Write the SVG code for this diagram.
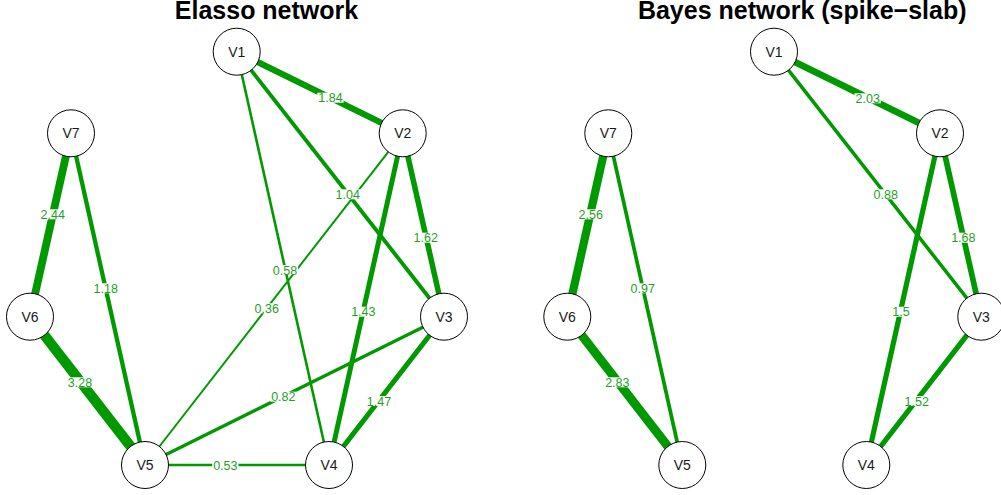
<svg xmlns="http://www.w3.org/2000/svg" width="1001" height="495" viewBox="0 0 1001 495">
<style>
.title{font-family:"Liberation Sans",Arial,sans-serif;font-weight:bold;font-size:25px;fill:#000;text-anchor:middle}
.e{stroke:#009900;fill:none;stroke-linecap:butt}
.lb{fill:#fff}
.lt{font-family:"Liberation Sans",Arial,sans-serif;font-size:12.5px;fill:#1f9f1f;text-anchor:middle}
.n circle{fill:#fff;stroke:#000;stroke-width:1}
.n text{font-family:"Liberation Sans",Arial,sans-serif;font-size:14px;fill:#1a1a1a;text-anchor:middle}
</style>
<rect width="1001" height="495" fill="#fff"/>
<text class="title" x="266.5" y="19.2">Elasso network</text>
<text class="title" x="802.2" y="19.2">Bayes network (spike−slab)</text>
<g id="edges">
<!-- left panel -->
<line class="e" x1="145" y1="465" x2="329" y2="465" stroke-width="2.5"/>
<line class="e" x1="402.7" y1="133.3" x2="145" y2="465" stroke-width="2"/>
<line class="e" x1="236.7" y1="51.7" x2="329" y2="465" stroke-width="2.6"/>
<line class="e" x1="444" y1="316.7" x2="145" y2="465" stroke-width="3.3"/>
<line class="e" x1="236.7" y1="51.7" x2="444" y2="316.7" stroke-width="3.9"/>
<line class="e" x1="71" y1="133.3" x2="145" y2="465" stroke-width="4.3"/>
<line class="e" x1="402.7" y1="133.3" x2="329" y2="465" stroke-width="5"/>
<line class="e" x1="444" y1="316.7" x2="329" y2="465" stroke-width="5.1"/>
<line class="e" x1="402.7" y1="133.3" x2="444" y2="316.7" stroke-width="5.5"/>
<line class="e" x1="236.7" y1="51.7" x2="402.7" y2="133.3" stroke-width="6.2"/>
<line class="e" x1="71" y1="133.3" x2="30" y2="316.7" stroke-width="7.8"/>
<line class="e" x1="30" y1="316.7" x2="145" y2="465" stroke-width="10.2"/>
<!-- right panel -->
<line class="e" x1="774" y1="51.7" x2="981.3" y2="316.7" stroke-width="3.5"/>
<line class="e" x1="608.3" y1="133.3" x2="682.3" y2="465" stroke-width="3.7"/>
<line class="e" x1="940" y1="133.3" x2="866.3" y2="465" stroke-width="5.2"/>
<line class="e" x1="981.3" y1="316.7" x2="866.3" y2="465" stroke-width="5.3"/>
<line class="e" x1="940" y1="133.3" x2="981.3" y2="316.7" stroke-width="5.7"/>
<line class="e" x1="774" y1="51.7" x2="940" y2="133.3" stroke-width="6.7"/>
<line class="e" x1="608.3" y1="133.3" x2="567.3" y2="316.7" stroke-width="8.2"/>
<line class="e" x1="567.3" y1="316.7" x2="682.3" y2="465" stroke-width="8.9"/>
</g>
<g id="edge-labels">
<rect class="lb" x="212.2" y="460.7" width="26.3" height="10"/><text class="lt" x="225.3" y="470.2">0.53</text>
<rect class="lb" x="253.5" y="303.3" width="26.3" height="10"/><text class="lt" x="266.7" y="312.8">0.36</text>
<rect class="lb" x="271.8" y="265" width="26.3" height="10"/><text class="lt" x="285" y="274.5">0.58</text>
<rect class="lb" x="270.2" y="391.7" width="26.3" height="10"/><text class="lt" x="283.3" y="401.2">0.82</text>
<rect class="lb" x="334.5" y="189.3" width="26.3" height="10"/><text class="lt" x="347.7" y="198.8">1.04</text>
<rect class="lb" x="92.5" y="283.3" width="26.3" height="10"/><text class="lt" x="105.7" y="292.8">1.18</text>
<rect class="lb" x="350.2" y="306.7" width="26.3" height="10"/><text class="lt" x="363.3" y="316.2">1.43</text>
<rect class="lb" x="365.8" y="396" width="26.3" height="10"/><text class="lt" x="379" y="405.5">1.47</text>
<rect class="lb" x="412.5" y="232.7" width="26.3" height="10"/><text class="lt" x="425.7" y="242.2">1.62</text>
<rect class="lb" x="317.3" y="92.7" width="26.3" height="10"/><text class="lt" x="330.5" y="102.2">1.84</text>
<rect class="lb" x="39.5" y="209.3" width="26.3" height="10"/><text class="lt" x="52.7" y="218.8">2.44</text>
<rect class="lb" x="66.8" y="377.3" width="26.3" height="10"/><text class="lt" x="80" y="386.8">3.28</text>
<rect class="lb" x="872.5" y="189.3" width="26.3" height="10"/><text class="lt" x="885.7" y="198.8">0.88</text>
<rect class="lb" x="629.5" y="283.3" width="26.3" height="10"/><text class="lt" x="642.7" y="292.8">0.97</text>
<rect class="lb" x="891.3" y="306.7" width="19.4" height="10"/><text class="lt" x="901" y="316.2">1.5</text>
<rect class="lb" x="903.5" y="396" width="26.3" height="10"/><text class="lt" x="916.7" y="405.5">1.52</text>
<rect class="lb" x="950.2" y="232.7" width="26.3" height="10"/><text class="lt" x="963.3" y="242.2">1.68</text>
<rect class="lb" x="854.5" y="93.3" width="26.3" height="10"/><text class="lt" x="867.7" y="102.8">2.03</text>
<rect class="lb" x="577.5" y="209.3" width="26.3" height="10"/><text class="lt" x="590.7" y="218.8">2.56</text>
<rect class="lb" x="604.2" y="377.3" width="26.3" height="10"/><text class="lt" x="617.3" y="386.8">2.83</text>
</g>
<g id="L-V1" class="n"><circle cx="236.7" cy="51.7" r="23.5"/><text x="236.7" y="56.8">V1</text></g>
<g id="L-V2" class="n"><circle cx="402.7" cy="133.3" r="23.5"/><text x="402.7" y="138.4">V2</text></g>
<g id="L-V3" class="n"><circle cx="444" cy="316.7" r="23.5"/><text x="444" y="321.8">V3</text></g>
<g id="L-V4" class="n"><circle cx="329" cy="465" r="23.5"/><text x="329" y="470.1">V4</text></g>
<g id="L-V5" class="n"><circle cx="145" cy="465" r="23.5"/><text x="145" y="470.1">V5</text></g>
<g id="L-V6" class="n"><circle cx="30" cy="316.7" r="23.5"/><text x="30" y="321.8">V6</text></g>
<g id="L-V7" class="n"><circle cx="71" cy="133.3" r="23.5"/><text x="71" y="138.4">V7</text></g>
<g id="R-V1" class="n"><circle cx="774" cy="51.7" r="23.5"/><text x="774" y="56.8">V1</text></g>
<g id="R-V2" class="n"><circle cx="940" cy="133.3" r="23.5"/><text x="940" y="138.4">V2</text></g>
<g id="R-V3" class="n"><circle cx="981.3" cy="316.7" r="23.5"/><text x="981.3" y="321.8">V3</text></g>
<g id="R-V4" class="n"><circle cx="866.3" cy="465" r="23.5"/><text x="866.3" y="470.1">V4</text></g>
<g id="R-V5" class="n"><circle cx="682.3" cy="465" r="23.5"/><text x="682.3" y="470.1">V5</text></g>
<g id="R-V6" class="n"><circle cx="567.3" cy="316.7" r="23.5"/><text x="567.3" y="321.8">V6</text></g>
<g id="R-V7" class="n"><circle cx="608.3" cy="133.3" r="23.5"/><text x="608.3" y="138.4">V7</text></g>
</svg>
